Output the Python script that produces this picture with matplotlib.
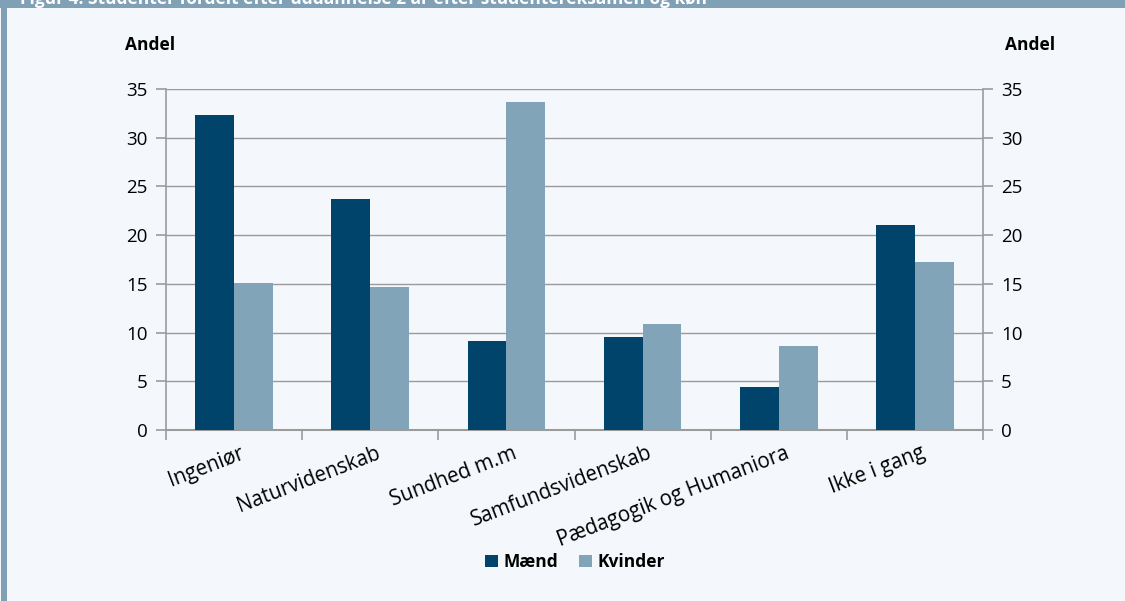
import matplotlib
matplotlib.use("Agg")
import matplotlib.pyplot as plt
from matplotlib.patches import Rectangle
import numpy as np

plt.rcParams['font.family'] = ['Open Sans', 'DejaVu Sans']

categories = ["Ingeniør", "Naturvidenskab", "Sundhed m.m", "Samfundsvidenskab",
              "Pædagogik og Humaniora", "Ikke i gang"]
maend = [32.3, 23.7, 9.1, 9.5, 4.4, 21.0]
kvinder = [15.1, 14.7, 33.7, 10.9, 8.6, 17.2]
series_names = ["Mænd", "Kvinder"]
yticks = [0, 5, 10, 15, 20, 25, 30, 35]
title = "Figur 4. Studenter fordelt efter uddannelse 2 år efter studentereksamen og køn"

bg = "#f4f8fc"
c_m = "#01446b"
c_k = "#82a4b9"
grid_c = "#9b9b9b"

fig = plt.figure(figsize=(11.25, 6.01), dpi=100, facecolor=bg)

# frame decorations
fig.patches.append(Rectangle((0, 1 - 8/601), 1, 8/601, transform=fig.transFigure,
                             facecolor="#7fa0b5", edgecolor="none", zorder=0))
fig.patches.append(Rectangle((1/1125, 0), 6/1125, 1, transform=fig.transFigure,
                             facecolor="#7fa0b5", edgecolor="none", zorder=0))
fig.text(20/1125, 1 + 1/601, title, color="white", fontsize=12.5, fontweight="bold",
         va="center", ha="left")

ax = fig.add_axes([166/1125, 1 - 430/601, 817/1125, 341/601])
ax.set_facecolor(bg)

x = np.arange(len(categories))
w = 0.285
ax.bar(x - w/2, maend, width=w, color=c_m, label=series_names[0], zorder=3)
ax.bar(x + w/2, kvinder, width=w, color=c_k, label=series_names[1], zorder=3)

ax.set_xlim(-0.5, len(categories) - 0.5)
ax.set_ylim(0, 35)
ax.set_yticks(yticks)
ax.yaxis.grid(True, color=grid_c, linewidth=1.0, zorder=0)
ax.set_axisbelow(True)

for s in ["top", "right"]:
    ax.spines[s].set_visible(False)
ax.spines["left"].set_color(grid_c)
ax.spines["bottom"].set_color(grid_c)
ax.spines["left"].set_linewidth(1.2)
ax.spines["bottom"].set_linewidth(1.5)

ax.tick_params(axis="y", colors=grid_c, length=7, width=1.2, labelcolor="black",
               labelsize=13.5, pad=6)

# x ticks at category boundaries
ax.set_xticks(np.arange(len(categories) + 1) - 0.5)
ax.set_xticklabels([])
ax.tick_params(axis="x", colors=grid_c, length=7, width=1.2, direction="out")
for xi, lab in zip(x, categories):
    ax.text(xi + 0.04, -1.3, lab, rotation=21, ha="right", va="top",
            rotation_mode="anchor", fontsize=14.8, color="black")

ax2 = ax.twinx()
ax2.set_ylim(0, 35)
ax2.set_yticks(yticks)
for s in ["top", "left", "bottom"]:
    ax2.spines[s].set_visible(False)
ax2.spines["right"].set_color(grid_c)
ax2.spines["right"].set_linewidth(1.2)
ax2.tick_params(axis="y", colors=grid_c, length=7, width=1.2, labelcolor="black",
                labelsize=13.5, pad=6)

fig.text(150/1125, 1 - 45/601, "Andel", fontsize=12.5, fontweight="bold",
         ha="center", va="center")
fig.text(1030/1125, 1 - 45/601, "Andel", fontsize=12.5, fontweight="bold",
         ha="center", va="center")

h, l = ax.get_legend_handles_labels()
leg = fig.legend(h, l, loc="center", bbox_to_anchor=(575/1125, 1 - 562/601), ncol=2,
                 frameon=False, handlelength=0.75, handleheight=0.75,
                 handletextpad=0.3, columnspacing=1.2,
                 prop={"weight": "bold", "size": 12.5})

fig.savefig("out.png", dpi=100, facecolor=bg)
